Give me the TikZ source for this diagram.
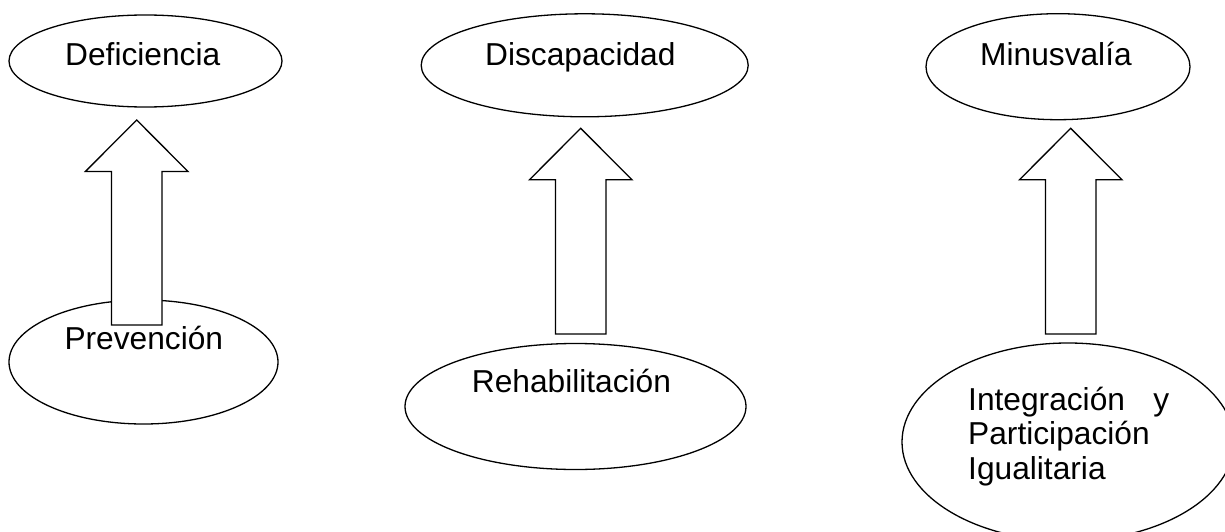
\documentclass[tikz,border=0pt]{standalone}
\usepackage{fontspec}
\setmainfont{Liberation Sans}
\usetikzlibrary{shapes.geometric}

\newcommand{\hollowup}[2]{%
  \draw[hollow] ([xshift=-25.3pt]#1) -- ([xshift=-25.3pt,yshift=-51.5pt]#2)
    -- ([xshift=-51.3pt,yshift=-51.5pt]#2) -- (#2)
    -- ([xshift=51.3pt,yshift=-51.5pt]#2) -- ([xshift=25.3pt,yshift=-51.5pt]#2)
    -- ([xshift=25.3pt]#1) -- cycle;}

\begin{document}
\begin{tikzpicture}[x=1pt,y=-1pt]
   \tikzstyle{oval}=[ellipse,draw,line width=1.3pt,inner sep=0pt]
   \tikzstyle{word}=[inner sep=0pt,anchor=base west,font=\fontsize{31.7}{34.5}\selectfont]
   \tikzstyle{hollow}=[draw,fill=white,line width=1.3pt,line join=miter]
\useasboundingbox (0,0) rectangle (1225,532);
\clip (0,0) rectangle (1225,532);

% top row
\node[oval,minimum width=273pt,minimum height=92pt] (defE) at (145.5,61) {};
\node[oval,minimum width=327pt,minimum height=103pt] (discE) at (584.7,65.3) {};
\node[oval,minimum width=264pt,minimum height=106pt] (minusE) at (1058,66.7) {};

% bottom row
\node[oval,minimum width=269pt,minimum height=124pt] (prevE) at (143.5,362) {};
\node[oval,minimum width=341pt,minimum height=126pt] (rehabE) at (575.5,406.5) {};
\node[oval,minimum width=332pt,minimum height=198pt] (integE) at (1068,442) {};

% arrows
\coordinate (tip1) at (136.7,120);   \coordinate (tail1) at (136.7,325);
\coordinate (tip2) at (580.7,128.3); \coordinate (tail2) at (580.7,334);
\coordinate (tip3) at (1070.7,128.3);\coordinate (tail3) at (1070.7,334);
\foreach \t in {1,2,3} {\hollowup{tail\t}{tip\t}}

\node[word] (defT) at (65,66) {Deficiencia};
\node[word] (discT) at (485,66) {Discapacidad};
\node[word] (minusT) at (980,66) {Minusvalía};
\node[word] (prevT) at (64.3,349.5) {Prevención};
\node[word] (rehabT) at (471.7,392) {Rehabilitación};
\node[word,text width=201pt,align=left] (integT) at (968,410)
  {\makebox[201pt]{Integración\hfill y}\\Participación\\Igualitaria};

\end{tikzpicture}
\end{document}
